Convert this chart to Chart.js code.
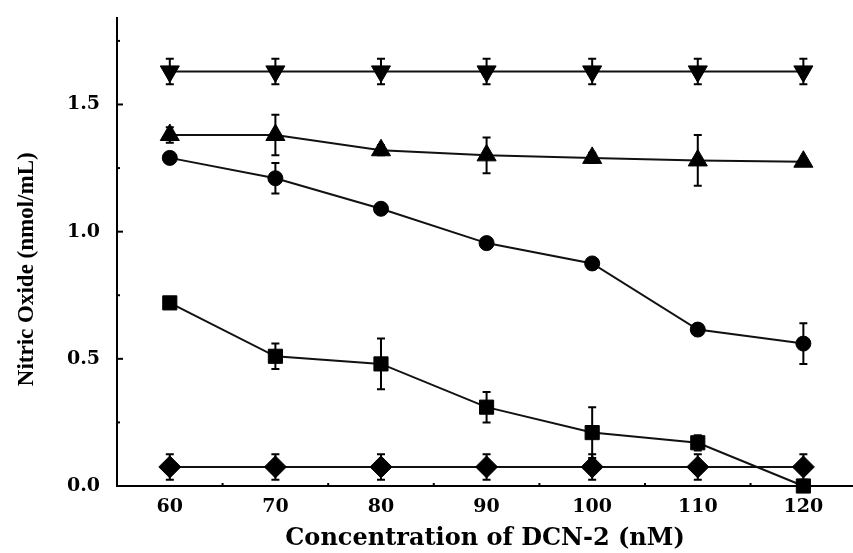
<!DOCTYPE html>
<html>
<head>
<meta charset="utf-8">
<script src="https://cdn.jsdelivr.net/npm/chart.js@4.4.0/dist/chart.umd.min.js"></script>
<style>
  html, body { margin: 0; padding: 0; background: #fff; }
  #wrap { width: 853px; height: 553px; }
</style>
</head>
<body>
<div id="wrap"><canvas id="myChart" width="853" height="553"></canvas></div>
<script>
// concentracion (nM)
var conc = [60, 70, 80, 90, 100, 110, 120];

// valores de cada serie
var serieTriAbajo = [1.63, 1.63, 1.63, 1.63, 1.63, 1.63, 1.63];
var serieTriArriba = [1.38, 1.38, 1.32, 1.30, 1.29, 1.28, 1.275];
var serieCirculo = [1.29, 1.21, 1.09, 0.955, 0.875, 0.615, 0.56];
var serieCuadro = [0.72, 0.51, 0.48, 0.31, 0.21, 0.17, 0.0];
var serieRombo = [0.075, 0.075, 0.075, 0.075, 0.075, 0.075, 0.075];

// barras de error (+/-)
var errTriAbajo = [0.05, 0.05, 0.05, 0.05, 0.05, 0.05, 0.05];
var errTriArriba = [0.03, 0.08, 0.02, 0.07, 0.02, 0.1, 0.01];
var errCirculo = [0.02, 0.06, 0.02, 0.02, 0.01, 0.01, 0.08];
var errCuadro = [0.02, 0.05, 0.1, 0.06, 0.1, 0.03, 0.01];
var errRombo = [0.05, 0.05, 0.05, 0.05, 0.05, 0.05, 0.05];

var yVals = [0, 0.5, 1.0, 1.5];
var yTicks = ['0.0', '0.5', '1.0', '1.5'];
var xTicks = ['60', '70', '80', '90', '100', '110', '120'];

function puntos(vals, errs) {
  return vals.map(function (v, i) { return { x: conc[i], y: v, e: errs[i] }; });
}

function serie(label, vals, errs, estilo, radio, rot) {
  return {
    label: label,
    data: puntos(vals, errs),
    borderColor: '#111',
    backgroundColor: '#000',
    borderWidth: 2,
    pointStyle: estilo,
    pointRadius: radio,
    pointRotation: rot || 0,
    pointBorderWidth: 1,
    pointBorderColor: '#000',
    pointBackgroundColor: '#000',
    tension: 0,
    clip: false
  };
}

// barras de error y marcas de los ejes hacia adentro
var extras = {
  id: 'extras',
  afterDatasetsDraw: function (chart) {
    var ctx = chart.ctx;
    var xs = chart.scales.x, ys = chart.scales.y;
    ctx.save();
    ctx.strokeStyle = '#000';
    ctx.lineWidth = 2;
    chart.data.datasets.forEach(function (ds) {
      ds.data.forEach(function (p) {
        var px = xs.getPixelForValue(p.x);
        var top = ys.getPixelForValue(p.y + p.e);
        var bot = ys.getPixelForValue(Math.max(0, p.y - p.e));
        ctx.beginPath();
        ctx.moveTo(px, top); ctx.lineTo(px, bot);
        ctx.moveTo(px - 4, top); ctx.lineTo(px + 4, top);
        ctx.moveTo(px - 4, bot); ctx.lineTo(px + 4, bot);
        ctx.stroke();
      });
    });
    // marcas del eje y
    var left = chart.chartArea.left, bottom = chart.chartArea.bottom;
    for (var v = 0.25; v <= 1.76; v += 0.25) {
      var py = ys.getPixelForValue(v);
      var mayor = Math.abs(v / 0.5 - Math.round(v / 0.5)) < 0.01;
      ctx.beginPath();
      ctx.moveTo(left, py); ctx.lineTo(left + (mayor ? 6 : 3), py);
      ctx.stroke();
    }
    for (var c = 65; c <= 115; c += 10) {
      var px2 = xs.getPixelForValue(c);
      ctx.beginPath();
      ctx.moveTo(px2, bottom); ctx.lineTo(px2, bottom - 3);
      ctx.stroke();
    }
    ctx.restore();
  }
};

var ctx = document.getElementById('myChart').getContext('2d');
var chart = new Chart(ctx, {
  type: 'line',
  data: {
    datasets: [
      serie('A', serieTriAbajo, errTriAbajo, 'triangle', 11, 180),
      serie('B', serieTriArriba, errTriArriba, 'triangle', 11, 0),
      serie('C', serieCirculo, errCirculo, 'circle', 7.5, 0),
      serie('D', serieCuadro, errCuadro, 'rect', 10, 0),
      serie('E', serieRombo, errRombo, 'rectRot', 11, 0)
    ]
  },
  options: {
    responsive: false,
    animation: false,
    layout: { autoPadding: false, padding: { top: 18, right: 0, left: 0, bottom: 0 } },
    plugins: { legend: { display: false }, tooltip: { enabled: false } },
    scales: {
      x: {
        type: 'linear',
        min: 55,
        max: 124.7,
        grid: { display: false, drawTicks: false },
        border: { display: true, color: '#000', width: 2 },
        afterBuildTicks: function (s) {
          s.ticks = conc.map(function (v) { return { value: v }; });
        },
        ticks: {
          autoSkip: false,
          maxRotation: 0,
          padding: 10,
          color: '#000',
          font: { family: 'DejaVu Serif', size: 19, weight: 'bold' },
          callback: function (v, i) { return xTicks[i]; }
        },
        title: {
          display: true,
          text: 'Concentration of DCN-2 (nM)',
          color: '#000',
          font: { family: 'DejaVu Serif', size: 24, weight: 'bold' },
          padding: { top: 2, bottom: 0 }
        },
        afterFit: function (s) { s.height = 67; s.paddingRight = 0; }
      },
      y: {
        min: 0,
        max: 1.84,
        grid: { display: false, drawTicks: false },
        border: { display: true, color: '#000', width: 2 },
        afterBuildTicks: function (s) {
          s.ticks = yVals.map(function (v) { return { value: v }; });
        },
        ticks: {
          padding: 17,
          color: '#000',
          font: { family: 'DejaVu Serif', size: 19, weight: 'bold' },
          callback: function (v, i) { return yTicks[i]; }
        },
        title: {
          display: true,
          text: 'Nitric Oxide (nmol/mL)      ',
          color: '#000',
          font: { family: 'Liberation Serif', size: 23, weight: 'bold' },
          padding: { top: 13, bottom: 10 }
        },
        afterFit: function (s) { s.width = 117; s.paddingTop = 0; s.paddingBottom = 0; }
      }
    }
  },
  plugins: [extras]
});
</script>
</body>
</html>
